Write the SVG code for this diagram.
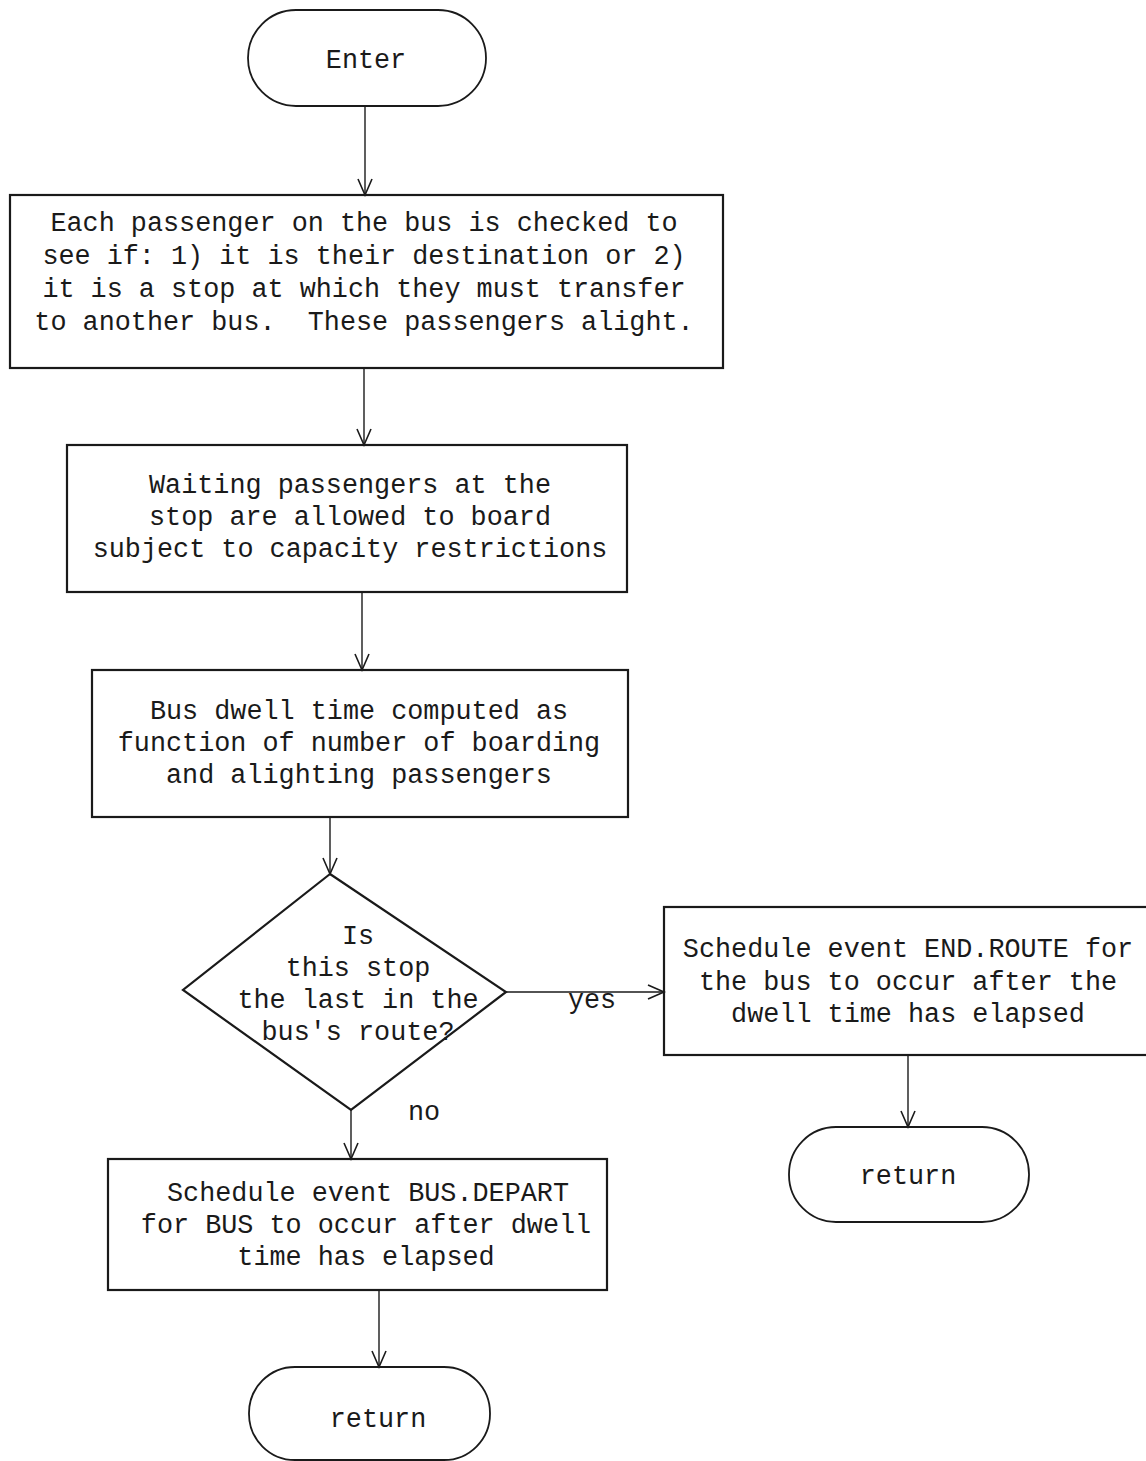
<svg xmlns="http://www.w3.org/2000/svg" width="1146" height="1461" viewBox="0 0 1146 1461">
  <style>
    .shape { fill: none; stroke: #1a1a1a; stroke-width: 2.2; }
    .term { fill: none; stroke: #1a1a1a; stroke-width: 1.8; }
    .edge { fill: none; stroke: #1a1a1a; stroke-width: 1.4; }
    text { font-family: "Liberation Mono", "DejaVu Sans Mono", monospace; font-size: 26.8px; fill: #1a1a1a; text-anchor: middle; white-space: pre; }
  </style>
  <defs>
    <marker id="arrow" viewBox="0 0 20 20" refX="18" refY="10" markerWidth="20" markerHeight="20" markerUnits="userSpaceOnUse" orient="auto">
      <polyline points="2,3 18,10 2,17" fill="none" stroke="#1a1a1a" stroke-width="1.6"/>
    </marker>
  </defs>
  <rect width="1146" height="1461" fill="#ffffff"/>

  <!-- connectors -->
  <g id="connectors">
    <line class="edge" x1="365" y1="106" x2="365" y2="195" marker-end="url(#arrow)"/>
    <line class="edge" x1="364" y1="368" x2="364" y2="445" marker-end="url(#arrow)"/>
    <line class="edge" x1="362" y1="592" x2="362" y2="670" marker-end="url(#arrow)"/>
    <line class="edge" x1="330" y1="817" x2="330" y2="874" marker-end="url(#arrow)"/>
    <line class="edge" x1="506" y1="992" x2="664" y2="992" marker-end="url(#arrow)"/>
    <line class="edge" x1="351" y1="1110" x2="351" y2="1159" marker-end="url(#arrow)"/>
    <line class="edge" x1="908" y1="1055" x2="908" y2="1127" marker-end="url(#arrow)"/>
    <line class="edge" x1="379" y1="1290" x2="379" y2="1367" marker-end="url(#arrow)"/>
    <text x="592" y="1008">yes</text>
    <text x="424" y="1120">no</text>
  </g>

  <g id="enter">
    <rect class="term" x="248" y="10" width="238" height="96" rx="48" ry="48"/>
    <text x="366" y="68">Enter</text>
  </g>

  <g id="alight">
    <rect class="shape" x="10" y="195" width="713" height="173"/>
    <text x="364" y="231">Each passenger on the bus is checked to</text>
    <text x="364" y="264">see if: 1) it is their destination or 2)</text>
    <text x="364" y="297">it is a stop at which they must transfer</text>
    <text x="364" y="330" xml:space="preserve">to another bus.  These passengers alight.</text>
  </g>

  <g id="board">
    <rect class="shape" x="67" y="445" width="560" height="147"/>
    <text x="350" y="493">Waiting passengers at the</text>
    <text x="350" y="525">stop are allowed to board</text>
    <text x="350" y="557">subject to capacity restrictions</text>
  </g>

  <g id="dwell">
    <rect class="shape" x="92" y="670" width="536" height="147"/>
    <text x="359" y="719">Bus dwell time computed as</text>
    <text x="359" y="751">function of number of boarding</text>
    <text x="359" y="783">and alighting passengers</text>
  </g>

  <g id="last-stop">
    <polygon class="shape" points="330,874 506,992 351,1110 183,990"/>
    <text x="358" y="944">Is</text>
    <text x="358" y="976">this stop</text>
    <text x="358" y="1008">the last in the</text>
    <text x="358" y="1040">bus's route?</text>
  </g>

  <g id="end-route">
    <rect class="shape" x="664" y="907" width="490" height="148"/>
    <text x="908" y="957">Schedule event END.ROUTE for</text>
    <text x="908" y="990">the bus to occur after the</text>
    <text x="908" y="1022">dwell time has elapsed</text>
  </g>

  <g id="return-right">
    <rect class="term" x="789" y="1127" width="240" height="95" rx="47" ry="47"/>
    <text x="908" y="1184">return</text>
  </g>

  <g id="bus-depart">
    <rect class="shape" x="108" y="1159" width="499" height="131"/>
    <text x="368" y="1201">Schedule event BUS.DEPART</text>
    <text x="366" y="1233">for BUS to occur after dwell</text>
    <text x="366" y="1265">time has elapsed</text>
  </g>

  <g id="return-bottom">
    <rect class="term" x="249" y="1367" width="241" height="93" rx="46" ry="46"/>
    <text x="378" y="1427">return</text>
  </g>
</svg>
